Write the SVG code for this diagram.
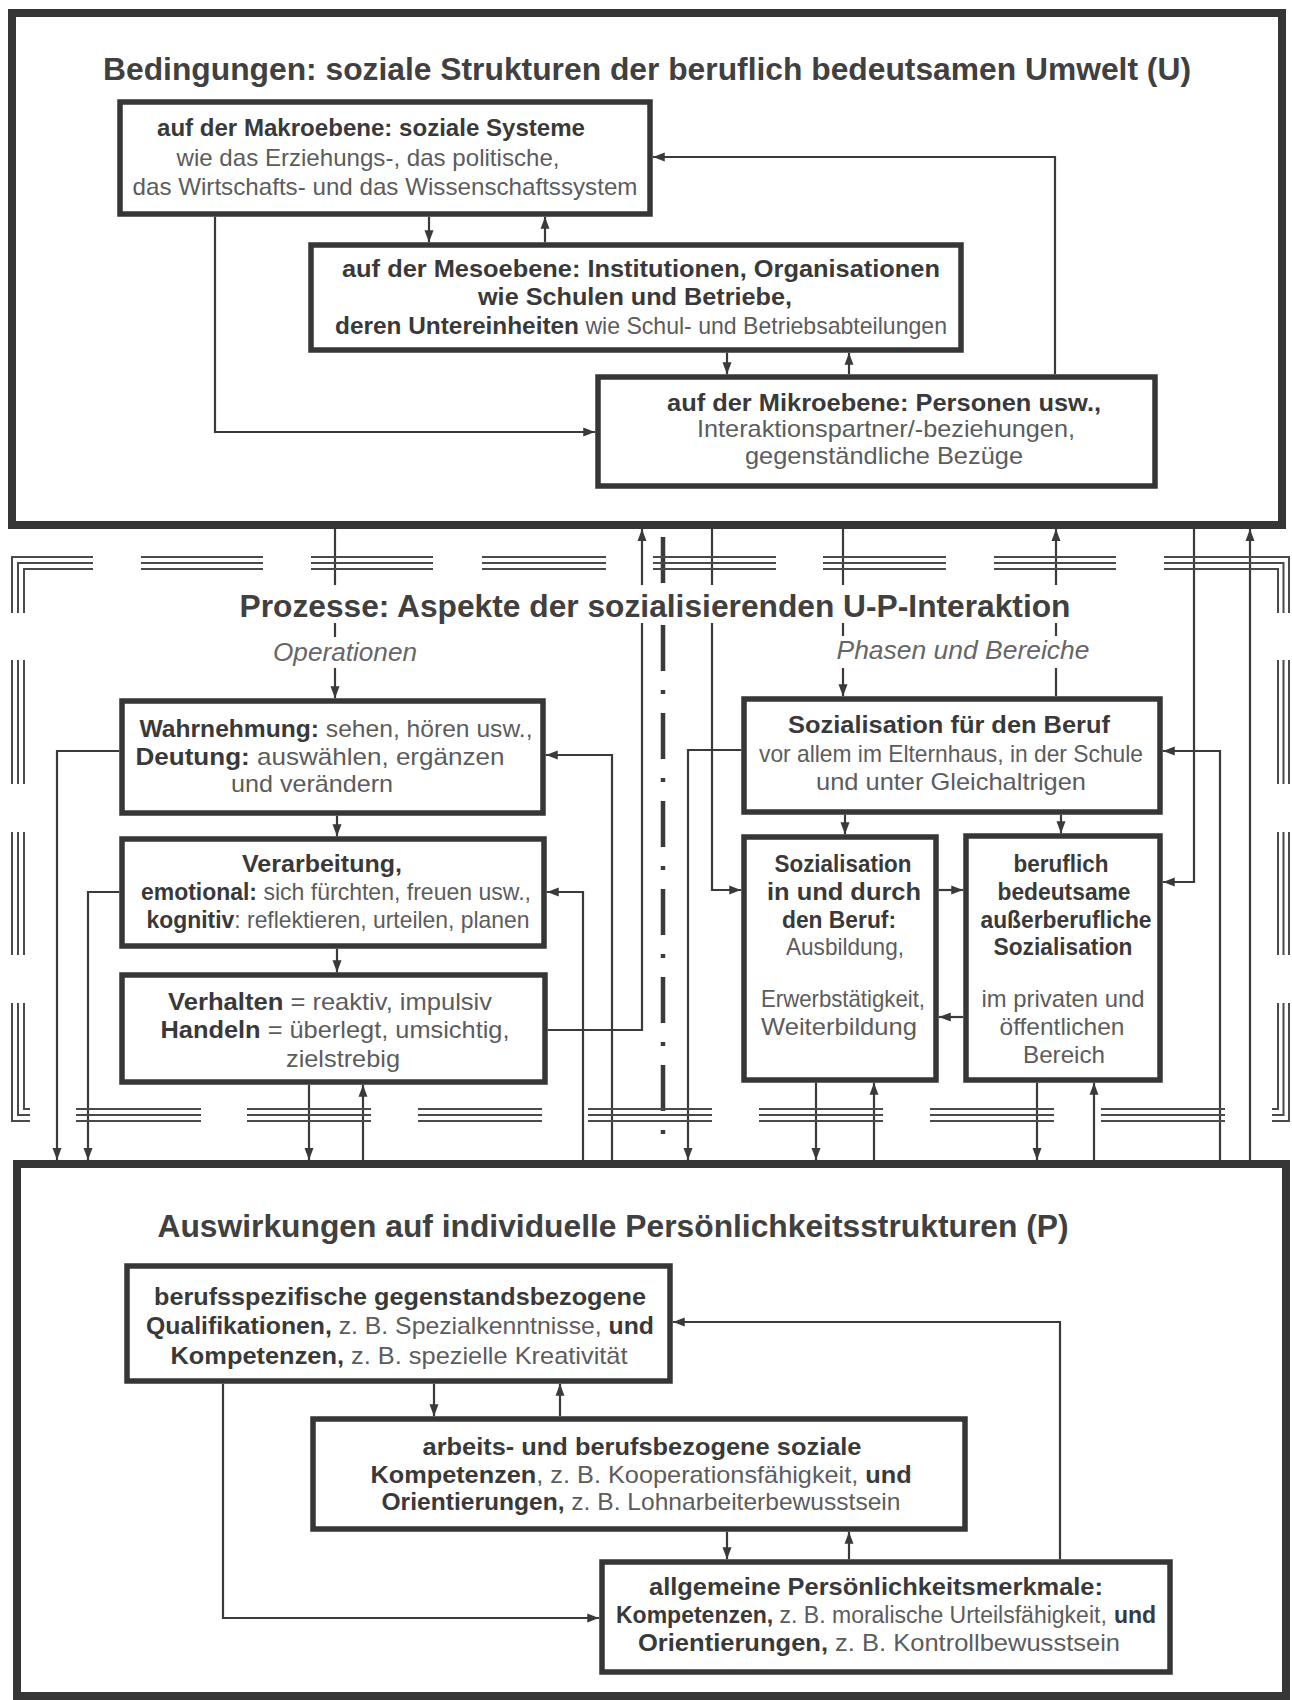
<svg xmlns="http://www.w3.org/2000/svg" width="1292" height="1700" viewBox="0 0 1292 1700">
<defs>
<style>
.bx{fill:#fff;stroke:#363636;stroke-width:5.5}
.outer{fill:none;stroke:#363636;stroke-width:8}
.con{fill:none;stroke:#3a3a3a;stroke-width:2.2}
.arr{marker-end:url(#ah)}
.fr{fill:none;stroke:#4a4a4a;stroke-width:2}
.dd{fill:none;stroke:#3a3a3a;stroke-width:4.5;stroke-dasharray:46 19 4 19}
.t{font-family:"Liberation Sans",Arial,sans-serif;font-size:24px;text-anchor:middle}
.s{font-family:"Liberation Sans",Arial,sans-serif;font-size:24px;text-anchor:start}
.b{font-weight:bold;fill:#393939}
.r{fill:#5c5c5c}
.ti{font-family:"Liberation Sans",Arial,sans-serif;font-size:32px;font-weight:bold;fill:#404040;text-anchor:middle}
.it{font-family:"Liberation Sans",Arial,sans-serif;font-size:26px;font-style:italic;fill:#666;text-anchor:middle}
.wh{fill:#fff;stroke:none}
</style>
<marker id="ah" markerWidth="12" markerHeight="10" refX="12" refY="5" orient="auto" markerUnits="userSpaceOnUse"><path d="M0,0.5 L12,5 L0,9.5 z" fill="#3a3a3a"/></marker>
</defs>
<rect width="1292" height="1700" fill="#fff"/>

<g id="connectors">
<path class="con arr" d="M429,216.75 L429,242.25"/>
<path class="con arr" d="M545,242.25 L545,216.75"/>
<path class="con arr" d="M727,352.75 L727,374.25"/>
<path class="con arr" d="M849,374.25 L849,352.75"/>
<path class="con arr" d="M215,216.75 L215,432 L595.25,432"/>
<path class="con arr" d="M1055,374.25 L1055,157 L652.75,157"/>
<path class="con arr" d="M335,529 L335,698.25"/>
<path class="con arr" d="M547.75,1030 L642,1030 L642,529"/>
<path class="con arr" d="M712,529 L712,890 L741.25,890"/>
<path class="con arr" d="M843,529 L843,696.25"/>
<path class="con arr" d="M1056,696.25 L1056,529"/>
<path class="con arr" d="M1194,529 L1194,882 L1162.75,882"/>
<path class="con arr" d="M1250,1160 L1250,529"/>
<path class="con arr" d="M1220,1160 L1220,751 L1162.75,751"/>
<path class="con arr" d="M741.25,750 L688,750 L688,1160"/>
<path class="con arr" d="M119.25,751 L57,751 L57,1160"/>
<path class="con arr" d="M119.25,892 L88,892 L88,1160"/>
<path class="con arr" d="M612,1160 L612,755 L545.75,755"/>
<path class="con arr" d="M583,1160 L583,892 L546.75,892"/>
<path class="con arr" d="M337,815.75 L337,836.25"/>
<path class="con arr" d="M337,948.75 L337,972.25"/>
<path class="con arr" d="M309,1084.75 L309,1160"/>
<path class="con arr" d="M363,1160 L363,1084.75"/>
<path class="con arr" d="M845,814.75 L845,834.25"/>
<path class="con arr" d="M1061,814.75 L1061,833.25"/>
<path class="con arr" d="M938.75,890 L963.25,890"/>
<path class="con arr" d="M963.25,1017 L938.75,1017"/>
<path class="con arr" d="M816,1082.75 L816,1160"/>
<path class="con arr" d="M874,1160 L874,1082.75"/>
<path class="con arr" d="M1037,1082.75 L1037,1160"/>
<path class="con arr" d="M1094,1160 L1094,1082.75"/>
<path class="con arr" d="M434,1383.75 L434,1416.25"/>
<path class="con arr" d="M560,1416.25 L560,1383.75"/>
<path class="con arr" d="M727,1531.75 L727,1559.25"/>
<path class="con arr" d="M849,1559.25 L849,1531.75"/>
<path class="con arr" d="M223,1383.75 L223,1618 L599.25,1618"/>
<path class="con arr" d="M1060,1559.25 L1060,1322 L672.75,1322"/>
</g>

<g id="separator">
<path class="dd" d="M663,537 L663,1134"/>
</g>

<g id="process-frame">
<path class="fr" d="M12,613 L12,557 L93,557 M18,613 L18,563 L93,563 M24,613 L24,569 L93,569"/>
<path class="fr" d="M1164,557 L1289,557 L1289,613 M1164,563 L1283.5,563 L1283.5,613 M1164,569 L1278,569 L1278,613"/>
<path class="fr" d="M141,557 H263 M141,563 H263 M141,569 H263 M311,557 H433 M311,563 H433 M311,569 H433 M482,557 H606 M482,563 H606 M482,569 H606 M653,557 H776 M653,563 H776 M653,569 H776 M823,557 H946 M823,563 H946 M823,569 H946 M994,557 H1116 M994,563 H1116 M994,569 H1116"/>
<path class="fr" d="M12,660 V784 M18,660 V784 M24,660 V784 M12,832 V955 M18,832 V955 M24,832 V955"/>
<path class="fr" d="M1289,660 V784 M1283.5,660 V784 M1278,660 V784 M1289,832 V955 M1283.5,832 V955 M1278,832 V955"/>
<path class="fr" d="M12,1003 L12,1121 L30,1121 M18,1003 L18,1115 L30,1115 M24,1003 L24,1109 L30,1109"/>
<path class="fr" d="M1272,1121 L1289,1121 L1289,1003 M1272,1115 L1283.5,1115 L1283.5,1003 M1272,1109 L1278,1109 L1278,1003"/>
<path class="fr" d="M76,1109 H201 M76,1115 H201 M76,1121 H201 M247,1109 H371 M247,1115 H371 M247,1121 H371 M418,1109 H542 M418,1115 H542 M418,1121 H542 M588,1109 H712 M588,1115 H712 M588,1121 H712 M759,1109 H883 M759,1115 H883 M759,1121 H883 M930,1109 H1054 M930,1115 H1054 M930,1121 H1054 M1101,1109 H1225 M1101,1115 H1225 M1101,1121 H1225"/>
</g>

<g id="env-U">
<rect class="outer" x="12" y="13" width="1270" height="512"/>
<text class="ti" x="647" y="80" textLength="1088" lengthAdjust="spacingAndGlyphs">Bedingungen: soziale Strukturen der beruflich bedeutsamen Umwelt (U)</text>
</g>

<g id="makro">
<rect class="bx" x="120" y="102" width="530" height="112"/>
<text class="t b" x="371" y="136" textLength="428" lengthAdjust="spacingAndGlyphs">auf der Makroebene: soziale Systeme</text>
<text class="t r" x="368" y="166" textLength="383" lengthAdjust="spacingAndGlyphs">wie das Erziehungs-, das politische,</text>
<text class="t r" x="385" y="195" textLength="505" lengthAdjust="spacingAndGlyphs">das Wirtschafts- und das Wissenschaftssystem</text>
</g>

<g id="meso">
<rect class="bx" x="311" y="245" width="650" height="105"/>
<text class="t b" x="641" y="277" textLength="598" lengthAdjust="spacingAndGlyphs">auf der Mesoebene: Institutionen, Organisationen</text>
<text class="t b" x="635" y="305" textLength="314" lengthAdjust="spacingAndGlyphs">wie Schulen und Betriebe,</text>
<text class="s" y="334"><tspan class="b" x="335" textLength="244" lengthAdjust="spacingAndGlyphs">deren Untereinheiten</tspan><tspan class="r" x="579" textLength="368" lengthAdjust="spacingAndGlyphs"> wie Schul- und Betriebsabteilungen</tspan></text>
</g>

<g id="mikro">
<rect class="bx" x="598" y="377" width="557" height="109"/>
<text class="t b" x="884" y="411" textLength="434" lengthAdjust="spacingAndGlyphs">auf der Mikroebene: Personen usw.,</text>
<text class="t r" x="886" y="437" textLength="378" lengthAdjust="spacingAndGlyphs">Interaktionspartner/-beziehungen,</text>
<text class="t r" x="884" y="464" textLength="278" lengthAdjust="spacingAndGlyphs">gegenständliche Bezüge</text>
</g>

<g id="process-title">
<rect class="wh" x="236" y="585" width="840" height="38"/>
<text class="ti" x="655" y="617" textLength="831" lengthAdjust="spacingAndGlyphs">Prozesse: Aspekte der sozialisierenden U-P-Interaktion</text>
<rect class="wh" x="270" y="637" width="150" height="31"/>
<text class="it" x="345" y="661" textLength="144" lengthAdjust="spacingAndGlyphs">Operationen</text>
<rect class="wh" x="834" y="636" width="259" height="32"/>
<text class="it" x="963" y="659" textLength="253" lengthAdjust="spacingAndGlyphs">Phasen und Bereiche</text>
</g>

<g id="wahrnehmung">
<rect class="bx" x="122" y="701" width="421" height="112"/>
<text class="s" y="737"><tspan class="b" x="139.5" textLength="179.5" lengthAdjust="spacingAndGlyphs">Wahrnehmung:</tspan><tspan class="r" x="319" textLength="213.5" lengthAdjust="spacingAndGlyphs"> sehen, hören usw.,</tspan></text>
<text class="s" y="765"><tspan class="b" x="135.5" textLength="114.2" lengthAdjust="spacingAndGlyphs">Deutung:</tspan><tspan class="r" x="249.7" textLength="254.8" lengthAdjust="spacingAndGlyphs"> auswählen, ergänzen</tspan></text>
<text class="t r" x="312" y="792" textLength="162" lengthAdjust="spacingAndGlyphs">und verändern</text>
</g>

<g id="verarbeitung">
<rect class="bx" x="122" y="839" width="422" height="107"/>
<text class="t b" x="322" y="872" textLength="160" lengthAdjust="spacingAndGlyphs">Verarbeitung,</text>
<text class="s" y="900"><tspan class="b" x="141" textLength="116" lengthAdjust="spacingAndGlyphs">emotional:</tspan><tspan class="r" x="257" textLength="274" lengthAdjust="spacingAndGlyphs"> sich fürchten, freuen usw.,</tspan></text>
<text class="s" y="928"><tspan class="b" x="146.5" textLength="87.8" lengthAdjust="spacingAndGlyphs">kognitiv</tspan><tspan class="r" x="234.3" textLength="295.2" lengthAdjust="spacingAndGlyphs">: reflektieren, urteilen, planen</tspan></text>
</g>

<g id="verhalten">
<rect class="bx" x="122" y="975" width="423" height="107"/>
<text class="s" y="1010"><tspan class="b" x="168" textLength="115.3" lengthAdjust="spacingAndGlyphs">Verhalten</tspan><tspan class="r" x="283.3" textLength="208.7" lengthAdjust="spacingAndGlyphs"> = reaktiv, impulsiv</tspan></text>
<text class="s" y="1038"><tspan class="b" x="160.5" textLength="100.1" lengthAdjust="spacingAndGlyphs">Handeln</tspan><tspan class="r" x="260.6" textLength="248.9" lengthAdjust="spacingAndGlyphs"> = überlegt, umsichtig,</tspan></text>
<text class="t r" x="343" y="1067" textLength="114" lengthAdjust="spacingAndGlyphs">zielstrebig</text>
</g>

<g id="soz-fuer-beruf">
<rect class="bx" x="744" y="699" width="416" height="113"/>
<text class="t b" x="949" y="733" textLength="322" lengthAdjust="spacingAndGlyphs">Sozialisation für den Beruf</text>
<text class="t r" x="951" y="762" textLength="384" lengthAdjust="spacingAndGlyphs">vor allem im Elternhaus, in der Schule</text>
<text class="t r" x="951" y="790" textLength="270" lengthAdjust="spacingAndGlyphs">und unter Gleichaltrigen</text>
</g>

<g id="soz-in-durch-beruf">
<rect class="bx" x="744" y="837" width="192" height="243"/>
<text class="t b" x="843" y="872" textLength="137" lengthAdjust="spacingAndGlyphs">Sozialisation</text>
<text class="t b" x="844" y="900" textLength="154" lengthAdjust="spacingAndGlyphs">in und durch</text>
<text class="t b" x="839" y="928" textLength="114" lengthAdjust="spacingAndGlyphs">den Beruf:</text>
<text class="t r" x="845" y="955" textLength="118" lengthAdjust="spacingAndGlyphs">Ausbildung,</text>
<text class="t r" x="843" y="1007" textLength="164" lengthAdjust="spacingAndGlyphs">Erwerbstätigkeit,</text>
<text class="t r" x="839" y="1035" textLength="156" lengthAdjust="spacingAndGlyphs">Weiterbildung</text>
</g>

<g id="ausserberufliche-soz">
<rect class="bx" x="966" y="836" width="194" height="244"/>
<text class="t b" x="1061" y="872" textLength="95" lengthAdjust="spacingAndGlyphs">beruflich</text>
<text class="t b" x="1064" y="900" textLength="133" lengthAdjust="spacingAndGlyphs">bedeutsame</text>
<text class="t b" x="1066" y="928" textLength="171" lengthAdjust="spacingAndGlyphs">außerberufliche</text>
<text class="t b" x="1063" y="955" textLength="139" lengthAdjust="spacingAndGlyphs">Sozialisation</text>
<text class="t r" x="1063" y="1007" textLength="163" lengthAdjust="spacingAndGlyphs">im privaten und</text>
<text class="t r" x="1062" y="1035" textLength="125" lengthAdjust="spacingAndGlyphs">öffentlichen</text>
<text class="t r" x="1064" y="1063" textLength="82" lengthAdjust="spacingAndGlyphs">Bereich</text>
</g>

<g id="effects-P">
<rect class="outer" x="17" y="1164" width="1269" height="532"/>
<text class="ti" x="613" y="1237" textLength="911" lengthAdjust="spacingAndGlyphs">Auswirkungen auf individuelle Persönlichkeitsstrukturen (P)</text>
</g>

<g id="qualifikationen">
<rect class="bx" x="127" y="1266" width="543" height="115"/>
<text class="t b" x="400" y="1305" textLength="492" lengthAdjust="spacingAndGlyphs">berufsspezifische gegenstandsbezogene</text>
<text class="s" y="1334"><tspan class="b" x="146" textLength="185.8" lengthAdjust="spacingAndGlyphs">Qualifikationen,</tspan><tspan class="r" x="331.8" textLength="269.9" lengthAdjust="spacingAndGlyphs"> z. B. Spezialkenntnisse,</tspan><tspan class="b" x="601.7" textLength="52.3" lengthAdjust="spacingAndGlyphs"> und</tspan></text>
<text class="s" y="1364"><tspan class="b" x="170.5" textLength="173.5" lengthAdjust="spacingAndGlyphs">Kompetenzen,</tspan><tspan class="r" x="344" textLength="283.5" lengthAdjust="spacingAndGlyphs"> z. B. spezielle Kreativität</tspan></text>
</g>

<g id="soziale-kompetenzen">
<rect class="bx" x="313" y="1419" width="652" height="110"/>
<text class="t b" x="642" y="1455" textLength="439" lengthAdjust="spacingAndGlyphs">arbeits- und berufsbezogene soziale</text>
<text class="s" y="1483"><tspan class="b" x="370.5" textLength="165.8" lengthAdjust="spacingAndGlyphs">Kompetenzen</tspan><tspan class="r" x="536.3" textLength="322" lengthAdjust="spacingAndGlyphs">, z. B. Kooperationsfähigkeit,</tspan><tspan class="b" x="858.3" textLength="53.4" lengthAdjust="spacingAndGlyphs"> und</tspan></text>
<text class="s" y="1510"><tspan class="b" x="381.5" textLength="183" lengthAdjust="spacingAndGlyphs">Orientierungen,</tspan><tspan class="r" x="564.5" textLength="336" lengthAdjust="spacingAndGlyphs"> z. B. Lohnarbeiterbewusstsein</tspan></text>
</g>

<g id="persoenlichkeitsmerkmale">
<rect class="bx" x="602" y="1562" width="568" height="110"/>
<text class="t b" x="876" y="1595" textLength="454" lengthAdjust="spacingAndGlyphs">allgemeine Persönlichkeitsmerkmale:</text>
<text class="s" y="1623" style="font-size:23px"><tspan class="b" x="616" textLength="157.2" lengthAdjust="spacingAndGlyphs">Kompetenzen,</tspan><tspan class="r" x="773.2" textLength="333.6" lengthAdjust="spacingAndGlyphs"> z. B. moralische Urteilsfähigkeit,</tspan><tspan class="b" x="1107.5" textLength="48.6" lengthAdjust="spacingAndGlyphs"> und</tspan></text>
<text class="s" y="1651"><tspan class="b" x="638" textLength="190" lengthAdjust="spacingAndGlyphs">Orientierungen,</tspan><tspan class="r" x="828" textLength="292" lengthAdjust="spacingAndGlyphs"> z. B. Kontrollbewusstsein</tspan></text>
</g>
</svg>
